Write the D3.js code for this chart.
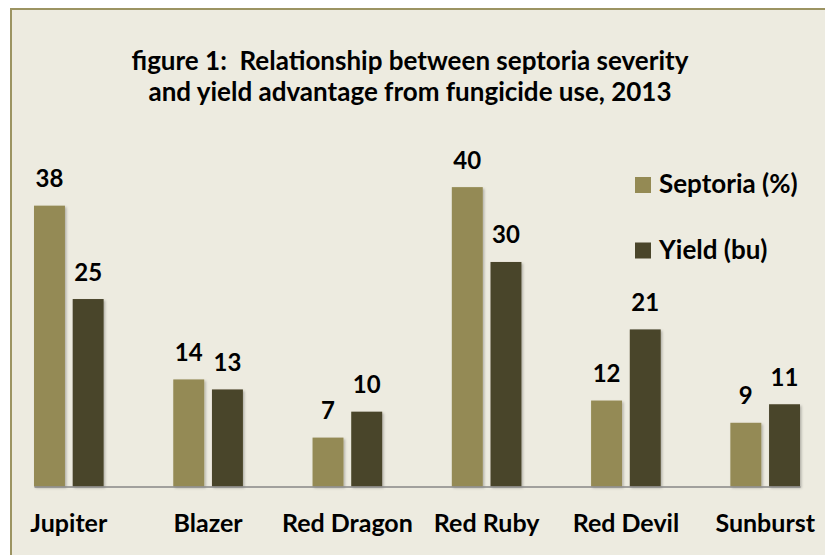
<!DOCTYPE html>
<html>
<head>
<meta charset="utf-8">
<script src="https://cdn.jsdelivr.net/npm/d3@7"></script>
<style>
    body { margin: 0; background: #ffffff; }
    text { font-family: Lato, "Open Sans", sans-serif; font-weight: bold; fill: #000000; }
</style>
</head>
<body>
<div id="chart-container"></div>
<script>
var categories = ["Jupiter", "Blazer", "Red Dragon", "Red Ruby", "Red Devil", "Sunburst"];
var seriesNames = ["Septoria (%)", "Yield (bu)"];
var septoria = [37.9, 14.45, 6.6, 40.4, 11.6, 8.6];
var yieldBu = [25.3, 13.1, 10.1, 30.3, 21.2, 11.1];
var titleLines = ["figure 1:  Relationship between septoria severity",
                  "and yield advantage from fungicide use, 2013"];

var settings = {
    w: 825,
    h: 555,
    left: 34,
    right: 800,
    baseY: 486.5,
    unit: 7.41,
    colors: ["#948a54", "#4a452a"],
    bg: "#edebe0"
};

var rows = categories.map(function(c, i) {
    return {name: c, values: [septoria[i], yieldBu[i]]};
});

var svg = d3.select("#chart-container").append("svg")
    .attr("width", settings.w)
    .attr("height", settings.h);

// soft shadow like the excel bars
var defs = svg.append("defs");
var shadow = defs.append("filter").attr("id", "shadow")
    .attr("x", "-20%").attr("y", "-20%").attr("width", "150%").attr("height", "150%");
shadow.append("feDropShadow")
    .attr("dx", 1.5).attr("dy", 1.5).attr("stdDeviation", 1.2)
    .attr("flood-color", "#000000").attr("flood-opacity", 0.25);

svg.append("rect")
    .attr("x", 11).attr("y", 9)
    .attr("width", 840).attr("height", 570)
    .attr("fill", settings.bg)
    .attr("stroke", "#9c9462")
    .attr("stroke-width", 2);

var xScale = d3.scaleBand()
    .domain(categories)
    .range([settings.left, settings.right])
    .paddingInner(0.5)
    .paddingOuter(0);

var xInner = d3.scaleBand()
    .domain(d3.range(seriesNames.length))
    .range([0, xScale.bandwidth()])
    .paddingInner(0.2);

var yMax = 45;
var yScale = d3.scaleLinear()
    .domain([0, yMax])
    .range([settings.baseY, settings.baseY - yMax * settings.unit]);

var groups = svg.selectAll("g.group")
    .data(rows)
    .enter()
    .append("g")
    .attr("class", "group")
    .attr("transform", function(d) { return "translate(" + xScale(d.name) + ",0)"; });

groups.selectAll("rect")
    .data(function(d) { return d.values; })
    .enter()
    .append("rect")
    .attr("x", function(d, i) { return xInner(i); })
    .attr("y", function(d) { return yScale(d); })
    .attr("width", xInner.bandwidth())
    .attr("height", function(d) { return yScale(0) - yScale(d); })
    .attr("fill", function(d, i) { return settings.colors[i]; })
    .attr("filter", "url(#shadow)");

groups.selectAll("text.value")
    .data(function(d) { return d.values; })
    .enter()
    .append("text")
    .attr("class", "value")
    .attr("x", function(d, i) { return xInner(i) + xInner.bandwidth() / 2; })
    .attr("y", function(d) { return yScale(d) - 18.5; })
    .attr("text-anchor", "middle")
    .style("font-size", "24px")
    .text(d3.format(".0f"));

// x axis: line only, labels below
var xAxis = d3.axisBottom(xScale).tickSize(0).tickPadding(28);
var xAxisDom = svg.append("g")
    .attr("class", "x-axis")
    .attr("transform", "translate(0," + settings.baseY + ")")
    .call(xAxis);
xAxisDom.select(".domain")
    .attr("stroke", "#878787")
    .attr("stroke-width", 1.5);
xAxisDom.selectAll("text")
    .attr("dy", null)
    .attr("y", 45.5)
    .style("font-size", "25px")
    .style("font-family", "Lato, 'Open Sans', sans-serif")
    .style("font-weight", "bold")
    .attr("fill", "#000000");

// title
svg.append("g").selectAll("text")
    .data(titleLines)
    .enter()
    .append("text")
    .attr("x", 410)
    .attr("y", function(d, i) { return 70 + i * 31; })
    .attr("text-anchor", "middle")
    .style("font-size", "26px")
    .style("white-space", "pre")
    .text(function(d) { return d; });

// legend
var legend = svg.append("g").selectAll("g")
    .data(seriesNames)
    .enter()
    .append("g")
    .attr("transform", function(d, i) { return "translate(635," + (177 + i * 65.5) + ")"; });
legend.append("rect")
    .attr("width", 16).attr("height", 16)
    .attr("fill", function(d, i) { return settings.colors[i]; });
legend.append("text")
    .attr("x", 24).attr("y", 16)
    .style("font-size", "26px")
    .text(function(d) { return d; });
</script>
</body>
</html>
